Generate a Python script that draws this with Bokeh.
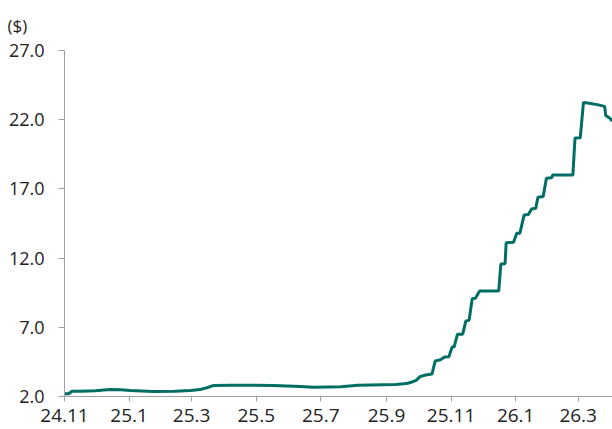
import pandas as pd
from bokeh.plotting import figure
from bokeh.models import FixedTicker, Range1d, NumeralTickFormatter
from bokeh.embed import file_html
from bokeh.resources import INLINE

dates = [
    "2024-11-01", "2024-11-05", "2024-11-08", "2024-11-16", "2024-11-30",
    "2024-12-14", "2024-12-24", "2025-01-02", "2025-01-24", "2025-02-13",
    "2025-02-28", "2025-03-09", "2025-03-16", "2025-03-22", "2025-04-07",
    "2025-05-17", "2025-06-12", "2025-06-24", "2025-07-20", "2025-08-05",
    "2025-09-10", "2025-09-17", "2025-09-21", "2025-09-25", "2025-09-29",
    "2025-10-03", "2025-10-08", "2025-10-14", "2025-10-17", "2025-10-22",
    "2025-10-26", "2025-10-30", "2025-11-02", "2025-11-04", "2025-11-07",
    "2025-11-12", "2025-11-15", "2025-11-18", "2025-11-21", "2025-11-24",
    "2025-11-28", "2025-12-16", "2025-12-18", "2025-12-22", "2025-12-23",
    "2025-12-30", "2026-01-02", "2026-01-05", "2026-01-09", "2026-01-13",
    "2026-01-16", "2026-01-20", "2026-01-22", "2026-01-27", "2026-01-30",
    "2026-02-04", "2026-02-05", "2026-02-24", "2026-02-26", "2026-03-03",
    "2026-03-06", "2026-03-10", "2026-03-19", "2026-03-26", "2026-03-27",
    "2026-03-31", "2026-04-02",
]
prices = [
    2.19, 2.20, 2.38, 2.38, 2.42,
    2.50, 2.48, 2.43, 2.36, 2.38,
    2.43, 2.50, 2.65, 2.80, 2.82,
    2.80, 2.72, 2.67, 2.70, 2.82,
    2.86, 2.92, 2.96, 3.05, 3.16,
    3.45, 3.55, 3.62, 4.56, 4.65,
    4.85, 4.88, 5.57, 5.60, 6.49,
    6.50, 7.46, 7.50, 9.08, 9.10,
    9.63, 9.63, 11.57, 11.60, 13.11,
    13.15, 13.79, 13.80, 15.12, 15.15,
    15.55, 15.60, 16.40, 16.45, 17.77,
    17.80, 18.00, 18.00, 20.67, 20.70,
    23.25, 23.20, 23.09, 22.96, 22.30,
    22.10, 21.90,
]
x_tick_dates = ["2024-11-01", "2025-01-01", "2025-03-01", "2025-05-01", "2025-07-01",
                "2025-09-01", "2025-11-01", "2026-01-01", "2026-03-01"]
x_tick_labels = ["24.11", "25.1", "25.3", "25.5", "25.7", "25.9", "25.11", "26.1", "26.3"]
y_ticks = [2, 7, 12, 17, 22, 27]
unit_label = "($)"

x = pd.to_datetime(dates)
tick_ms = [pd.Timestamp(d).value / 1e6 for d in x_tick_dates]

p = figure(width=612, height=429, x_axis_type="datetime",
           output_backend="svg", toolbar_location=None,
           x_range=Range1d(pd.Timestamp("2024-11-01"), pd.Timestamp("2026-04-02 10:00")),
           y_range=Range1d(2, 27),
           min_border_left=64, min_border_right=0, min_border_top=50, min_border_bottom=33)

p.line(x, prices, line_color="#006E64", line_width=3)

p.xgrid.visible = False
p.ygrid.visible = False
p.outline_line_color = None
p.background_fill_color = "white"
p.border_fill_color = "white"

axis_col = "#A0A0A0"
lab_col = "#222222"

p.xaxis.ticker = FixedTicker(ticks=tick_ms)
p.xaxis.major_label_overrides = {t: l for t, l in zip(tick_ms, x_tick_labels)}
p.xaxis.major_tick_out = 5
p.xaxis.major_tick_in = 0
p.xaxis.minor_tick_line_color = None
p.xaxis.major_label_standoff = 7
p.xaxis.major_label_text_font = "Open Sans"
p.xaxis.major_label_text_font_size = "19px"
p.xaxis.major_label_text_color = lab_col

p.yaxis.ticker = FixedTicker(ticks=y_ticks)
p.yaxis.formatter = NumeralTickFormatter(format="0.0")
p.yaxis.major_tick_out = 6
p.yaxis.major_tick_in = 0
p.yaxis.minor_tick_line_color = None
p.yaxis.major_label_standoff = 14
p.yaxis.major_label_text_font = "Open Sans"
p.yaxis.major_label_text_font_size = "18px"
p.yaxis.major_label_text_color = lab_col

for ax in (p.xaxis, p.yaxis):
    ax.axis_line_color = axis_col
    ax.major_tick_line_color = axis_col
    ax.axis_line_width = 1

p.title.text = unit_label
p.title.align = "left"
p.title.vertical_align = "top"
p.title.offset = -57
p.title.standoff = 24
p.title.text_font = "Open Sans"
p.title.text_font_size = "17px"
p.title.text_font_style = "normal"
p.title.text_color = lab_col

open("out.html", "w").write(file_html(p, INLINE))
